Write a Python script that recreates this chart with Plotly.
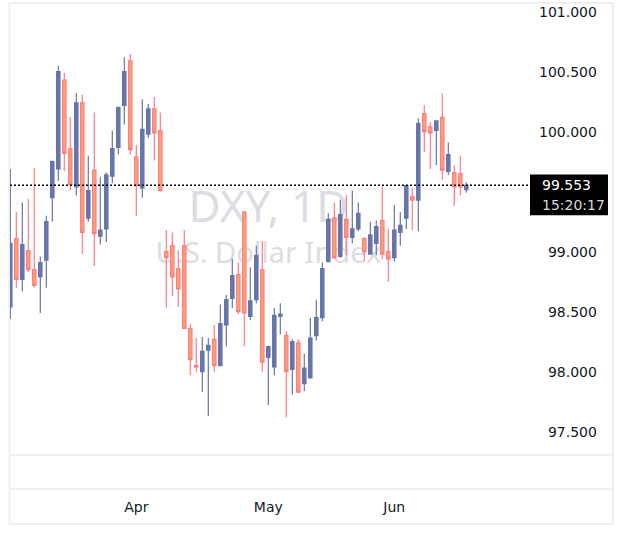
import plotly.graph_objects as go

# ---- data ----
opens = [98.54, 99.11, 98.77, 99.01, 98.85, 98.79, 98.93, 99.45, 99.69, 100.43,
         99.86, 99.54, 100.24, 99.28, 99.68, 99.13, 99.19, 99.63, 99.87, 100.22,
         100.59, 99.79, 99.53, 99.98, 100.19, 100.01, 99.00, 99.05, 98.86, 99.05,
         98.36, 98.05, 98.00, 98.18, 98.27, 98.05, 98.39, 98.61, 98.81, 99.33,
         98.46, 98.60, 98.85, 98.12, 98.04, 98.46, 98.30, 98.02, 98.24, 97.90,
         97.95, 98.30, 98.45, 98.92, 99.28, 98.96, 99.27, 99.12, 99.19, 99.11,
         98.98, 99.07, 99.26, 99.00, 98.95, 99.16, 99.28, 99.46, 99.43, 100.15,
         100.04, 100.01, 100.12, 99.67, 99.66, 99.65, 99.517]
highs = [99.69, 99.33, 99.41, 99.44, 99.70, 98.96, 99.30, 99.76, 100.55, 100.49,
         100.12, 100.32, 100.31, 99.80, 100.16, 99.62, 99.66, 100.01, 100.21, 100.62,
         100.65, 99.89, 100.27, 100.23, 100.29, 100.16, 99.18, 99.16, 99.01, 99.18,
         98.40, 98.28, 98.29, 98.28, 98.39, 98.56, 98.64, 98.94, 98.91, 99.34,
         98.87, 99.05, 99.09, 98.21, 98.53, 98.57, 98.34, 98.27, 98.27, 98.15,
         98.45, 98.60, 98.91, 99.32, 99.41, 99.43, 99.47, 99.51, 99.41, 99.12,
         99.25, 99.26, 99.55, 99.19, 99.39, 99.33, 99.55, 99.53, 100.11, 100.22,
         100.08, 100.09, 100.32, 99.91, 99.72, 99.80, 99.578]
lows = [98.44, 98.70, 98.67, 98.83, 98.70, 98.49, 98.70, 99.25, 99.59, 99.67,
        99.51, 99.47, 98.98, 99.25, 98.88, 99.06, 99.08, 99.57, 99.81, 100.06,
        99.81, 99.30, 99.45, 99.95, 99.76, 99.50, 98.53, 98.63, 98.54, 98.36,
        97.97, 98.00, 97.83, 97.63, 98.00, 98.05, 98.21, 98.53, 98.48, 98.21,
        98.43, 98.57, 98.00, 97.72, 97.97, 98.31, 97.62, 97.81, 97.82, 97.84,
        97.94, 98.26, 98.42, 98.91, 98.94, 98.95, 98.97, 99.07, 99.17, 98.92,
        98.98, 98.97, 98.94, 98.75, 98.92, 99.05, 99.19, 99.18, 99.17, 99.83,
        99.69, 99.72, 99.60, 99.64, 99.38, 99.47, 99.492]
closes = [99.07, 98.77, 99.06, 98.85, 98.72, 98.91, 99.25, 99.75, 100.50, 99.82,
          99.56, 100.24, 99.16, 99.51, 99.15, 99.18, 99.64, 99.86, 100.20, 100.50,
          99.85, 99.55, 100.02, 100.19, 99.99, 99.51, 98.95, 98.79, 98.69, 98.36,
          98.10, 98.04, 98.17, 98.22, 98.05, 98.40, 98.60, 98.80, 98.50, 98.49,
          98.59, 98.97, 98.08, 98.21, 98.47, 98.48, 98.00, 98.25, 97.83, 98.03,
          98.28, 98.45, 98.86, 99.27, 98.95, 99.31, 99.12, 99.19, 99.32, 99.00,
          99.14, 99.21, 98.98, 98.94, 99.18, 99.22, 99.55, 99.43, 100.07, 100.00,
          99.99, 100.09, 99.68, 99.81, 99.54, 99.54, 99.553]

month_labels = ["Apr", "May", "Jun"]
month_start_idx = [21, 43, 64]
price_ticks = [97.5, 98.0, 98.5, 99.0, 100.0, 100.5, 101.0]
last_price = 99.553
countdown = "15:20:17"
symbol_title = "DXY, 1D"
symbol_desc = "U.S. Dollar Index"

bar_index = list(range(len(opens)))

UP = "#6675AA"
DOWN_FILL = "#FFA46F"
DOWN_LINE = "#FF7B86"
FONT = "DejaVu Sans"

fig = go.Figure()
fig.add_trace(go.Candlestick(
    x=bar_index, open=opens, high=highs, low=lows, close=closes,
    increasing=dict(fillcolor=UP, line=dict(color=UP, width=1.2)),
    decreasing=dict(fillcolor=DOWN_FILL, line=dict(color=DOWN_LINE, width=1.2)),
    whiskerwidth=0, hoverinfo="skip", showlegend=False,
))

FS = "\u2007"
tick_text = [(FS if v < 100 else "") + f"{v:.3f}" for v in price_ticks]

fig.update_layout(
    width=623, height=540,
    margin=dict(l=10, r=91, t=5, b=51),
    paper_bgcolor="white", plot_bgcolor="white",
    showlegend=False, boxgap=0.2,
    xaxis=dict(
        range=[-0.05, 86.95], rangeslider=dict(visible=False),
        showgrid=False, zeroline=False, showline=False,
        tickmode="array", tickvals=month_start_idx, ticktext=month_labels,
        ticks="", tickfont=dict(family=FONT, size=14, color="#131722"),
        ticklabelstandoff=8,
    ),
    yaxis=dict(
        side="right", range=[97.0225, 101.056],
        showgrid=False, zeroline=False, showline=False,
        tickmode="array", tickvals=price_ticks, ticktext=tick_text,
        ticks="", tickfont=dict(family=FONT, size=14, color="#131722"),
        ticklabelstandoff=6,
    ),
)

# watermark (drawn below the candles via shape labels)
fig.add_shape(type="rect", xref="paper", yref="paper",
              x0=0.15, x1=0.84, y0=0.55, y1=0.611,
              line=dict(width=0), fillcolor="rgba(0,0,0,0)", layer="below",
              label=dict(text=symbol_title, textposition="middle center",
                         font=dict(family="Noto Sans", size=44, color="#dcdde2")))
fig.add_shape(type="rect", xref="paper", yref="paper",
              x0=0.15, x1=0.84, y0=0.467, y1=0.507,
              line=dict(width=0), fillcolor="rgba(0,0,0,0)", layer="below",
              label=dict(text=symbol_desc, textposition="middle center",
                         font=dict(family="Noto Sans", size=29, color="#dcdde2")))

# frame and pane separators
fig.add_shape(type="rect", xref="paper", yref="paper",
              x0=-0.001, x1=1.1552, y0=-0.0723, y1=1.0041,
              line=dict(color="#eeeeee", width=2), layer="below")
for yp in [0.07025, 0.0]:
    fig.add_shape(type="line", xref="paper", yref="paper",
                  x0=0, x1=1.1552, y0=yp, y1=yp,
                  line=dict(color="#e0e3eb", width=1))

# last price dotted line
fig.add_shape(type="line", xref="paper", yref="y",
              x0=0, x1=0.996, y0=last_price, y1=last_price,
              line=dict(color="black", width=1.5, dash="2px,2px"))

# price label box
fig.add_shape(type="rect", xref="paper", yref="y",
              x0=0.9962, x1=1.1456, y0=last_price - 0.25, y1=last_price + 0.09,
              line=dict(width=0), fillcolor="black")
fig.add_annotation(xref="paper", yref="y", x=1.0153, y=last_price,
                   text=f"{last_price:.3f}", showarrow=False,
                   xanchor="left", yanchor="middle",
                   font=dict(family=FONT, size=14, color="white"))
fig.add_annotation(xref="paper", yref="y", x=1.0153, y=last_price - 0.16,
                   text=countdown, showarrow=False,
                   xanchor="left", yanchor="middle",
                   font=dict(family=FONT, size=14, color="#d8d8d8"))

fig.write_html("out.html")
